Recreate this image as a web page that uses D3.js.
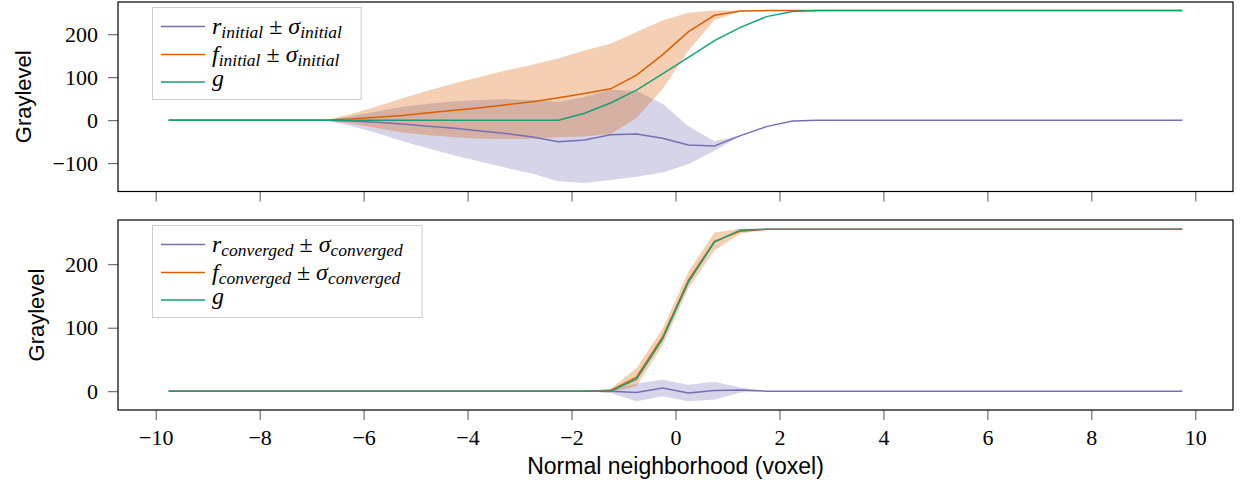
<!DOCTYPE html>
<html>
<head>
<meta charset="utf-8">
<script src="https://cdn.jsdelivr.net/npm/d3@7"></script>
<style>
  body { margin: 0; background: #fff; }
  svg { display: block; }
</style>
</head>
<body>
<svg width="1248" height="490"></svg>
<script>
// sample positions along the normal (voxel)
var xs = [-9.75, -9.25, -8.75, -8.25, -7.75, -7.25, -6.75, -6.25, -5.75, -5.25,
          -4.75, -4.25, -3.75, -3.25, -2.75, -2.25, -1.75, -1.25, -0.75, -0.25,
           0.25,  0.75,  1.25,  1.75,  2.25,  2.75,  3.25,  3.75,  4.25,  4.75,
           5.25,  5.75,  6.25,  6.75,  7.25,  7.75,  8.25,  8.75,  9.25,  9.75];

// initial state
var rInit  = [0, 0, 0, 0, 0, 0, 0, -2, -5, -9,
              -14, -19, -25, -31, -39, -50, -46, -34, -32, -42,
              -58, -60, -36, -15, -2, 0, 0, 0, 0, 0,
              0, 0, 0, 0, 0, 0, 0, 0, 0, 0];
var fInit  = [0, 0, 0, 0, 0, 0, 0, 3, 7, 11,
              17, 23, 29, 36, 43, 52, 62, 73, 105, 152,
              206, 244, 254, 255, 255, 255, 255, 255, 255, 255,
              255, 255, 255, 255, 255, 255, 255, 255, 255, 255];
var gInit  = [0, 0, 0, 0, 0, 0, 0, 0, 0, 0,
              0, 0, 0, 0, 0, 0, 16, 40, 70, 108,
              146, 185, 216, 241, 253, 255, 255, 255, 255, 255,
              255, 255, 255, 255, 255, 255, 255, 255, 255, 255];
var sdInit = [0, 0, 0, 0, 0, 0, 0, 11, 25, 40,
              52, 63, 72, 80, 86, 92, 100, 105, 100, 80,
              44, 11, 1, 0, 0, 0, 0, 0, 0, 0,
              0, 0, 0, 0, 0, 0, 0, 0, 0, 0];

// converged state
var rConv  = [0, 0, 0, 0, 0, 0, 0, 0, 0, 0,
              0, 0, 0, 0, 0, 0, 0, 0, -2, 5,
              -3, 1, 2, 0, 0, 0, 0, 0, 0, 0,
              0, 0, 0, 0, 0, 0, 0, 0, 0, 0];
var fConv  = [0, 0, 0, 0, 0, 0, 0, 0, 0, 0,
              0, 0, 0, 0, 0, 0, 0, 1, 22, 85,
              175, 236, 252, 255, 255, 255, 255, 255, 255, 255,
              255, 255, 255, 255, 255, 255, 255, 255, 255, 255];
var gConv  = [0, 0, 0, 0, 0, 0, 0, 0, 0, 0,
              0, 0, 0, 0, 0, 0, 0, 0, 19, 82,
              172, 235, 254, 255, 255, 255, 255, 255, 255, 255,
              255, 255, 255, 255, 255, 255, 255, 255, 255, 255];
var sdConv = [0, 0, 0, 0, 0, 0, 0, 0, 0, 0,
              0, 0, 0, 0, 0, 0, 0, 3, 14, 13,
              13, 14, 4, 0, 0, 0, 0, 0, 0, 0,
              0, 0, 0, 0, 0, 0, 0, 0, 0, 0];

var xTicks = [-10, -8, -6, -4, -2, 0, 2, 4, 6, 8, 10];
var yTicksTop = [-100, 0, 100, 200];
var yTicksBottom = [0, 100, 200];

var colR = '#7570b3', colF = '#d95f02', colG = '#1b9e77';
var serif = '"Liberation Serif", "Times New Roman", serif';
var sans = '"Liberation Sans", Arial, sans-serif';

var svg = d3.select('svg');
var left = 118, right = 1233;

// matplotlib-like 5% margins
var xPad = (xs[xs.length - 1] - xs[0]) * 0.05;
var x = d3.scaleLinear()
    .domain([xs[0] - xPad, xs[xs.length - 1] + xPad])
    .range([left, right]);

function drawPanel(top, bottom, r, f, g, sd, yTicks, sub, showXLabels) {
    var lo = d3.min(r.map(function(v, i) { return Math.min(v - sd[i], f[i] - sd[i], g[i]); }));
    var hi = d3.max(f.map(function(v, i) { return Math.max(v + sd[i], r[i] + sd[i], g[i]); }));
    var pad = (hi - lo) * 0.05;
    var y = d3.scaleLinear().domain([lo - pad, hi + pad]).range([bottom, top]);

    var panel = svg.append('g');
    var idx = d3.range(xs.length);

    var area = function(arr) {
        return d3.area()
            .x(function(i) { return x(xs[i]); })
            .y0(function(i) { return y(arr[i] - sd[i]); })
            .y1(function(i) { return y(arr[i] + sd[i]); });
    };
    var line = function(arr) {
        return d3.line()
            .x(function(i) { return x(xs[i]); })
            .y(function(i) { return y(arr[i]); });
    };

    panel.append('path').attr('d', area(r)(idx))
        .attr('fill', colR).attr('fill-opacity', 0.3);
    panel.append('path').attr('d', area(f)(idx))
        .attr('fill', colF).attr('fill-opacity', 0.3);

    [[r, colR], [f, colF], [g, colG]].forEach(function(s) {
        panel.append('path').attr('d', line(s[0])(idx))
            .attr('fill', 'none').attr('stroke', s[1]).attr('stroke-width', 1.5);
    });

    // x axis
    var xAxis = panel.append('g')
        .attr('transform', 'translate(0,' + bottom + ')')
        .attr('font-family', serif).attr('font-size', 22)
        .call(d3.axisBottom(x).tickValues(xTicks).tickSize(10).tickPadding(9)
            .tickFormat(showXLabels ? d3.format('d') : function() { return ''; }));
    xAxis.attr('font-family', serif).attr('font-size', 22);
    xAxis.select('.domain').remove();
    xAxis.selectAll('line').attr('stroke', '#555');
    xAxis.selectAll('text').attr('fill', '#000');

    // y axis
    var yAxis = panel.append('g')
        .attr('transform', 'translate(' + left + ',0)')
        .call(d3.axisLeft(y).tickValues(yTicks).tickSize(10).tickPadding(10).tickFormat(d3.format('d')));
    yAxis.attr('font-family', serif).attr('font-size', 22);
    yAxis.select('.domain').remove();
    yAxis.selectAll('line').attr('stroke', '#555');
    yAxis.selectAll('text').attr('fill', '#000');

    var bb = yAxis.node().getBBox();
    svg.append('text')
        .attr('transform', 'translate(' + (left + bb.x - 29) + ',' + ((top + bottom) / 2) + ') rotate(-90)')
        .attr('text-anchor', 'middle')
        .attr('dominant-baseline', 'central')
        .attr('font-family', sans).attr('font-size', 22)
        .text('Graylevel');

    // frame
    panel.append('rect')
        .attr('x', left).attr('y', top)
        .attr('width', right - left).attr('height', bottom - top)
        .attr('fill', 'none').attr('stroke', '#000').attr('stroke-width', 1.2);

    // legend
    var lg = panel.append('g').attr('transform', 'translate(152.5,' + (top + 5.5) + ')');
    var box = lg.append('rect').attr('fill', '#fff').attr('fill-opacity', 0.8)
        .attr('stroke', '#ccc').attr('stroke-width', 1).attr('height', 92);
    var rows = [['r', colR, true], ['f', colF, true], ['g', colG, false]];
    var rowY = [19, 47, 74.5];
    var texts = lg.append('g');
    rows.forEach(function(row, k) {
        lg.append('line').attr('x1', 8.5).attr('x2', 52.5)
            .attr('y1', rowY[k]).attr('y2', rowY[k])
            .attr('stroke', row[1]).attr('stroke-width', 1.5);
        var t = texts.append('text')
            .attr('x', 59.5).attr('y', rowY[k] + (row[2] ? 7 : 4))
            .attr('font-family', serif).attr('font-size', 24);
        t.append('tspan').attr('font-style', 'italic').text(row[0]);
        if (row[2]) {
            t.append('tspan').attr('font-style', 'italic').attr('font-size', 17.5).attr('dy', 4).text(sub);
            t.append('tspan').attr('dy', -4).text(' \u00b1 ');
            t.append('tspan').attr('font-style', 'italic').text('\u03c3');
            t.append('tspan').attr('font-style', 'italic').attr('font-size', 17.5).attr('dy', 4).text(sub);
        }
    });
    var tb = texts.node().getBBox();
    box.attr('width', tb.x + tb.width + 19);
}

drawPanel(2, 191.5, rInit, fInit, gInit, sdInit, yTicksTop, 'initial', false);
drawPanel(220, 410, rConv, fConv, gConv, sdConv, yTicksBottom, 'converged', true);

svg.append('text')
    .attr('x', (left + right) / 2).attr('y', 474)
    .attr('text-anchor', 'middle')
    .attr('font-family', sans).attr('font-size', 23)
    .text('Normal neighborhood (voxel)');
</script>
</body>
</html>
